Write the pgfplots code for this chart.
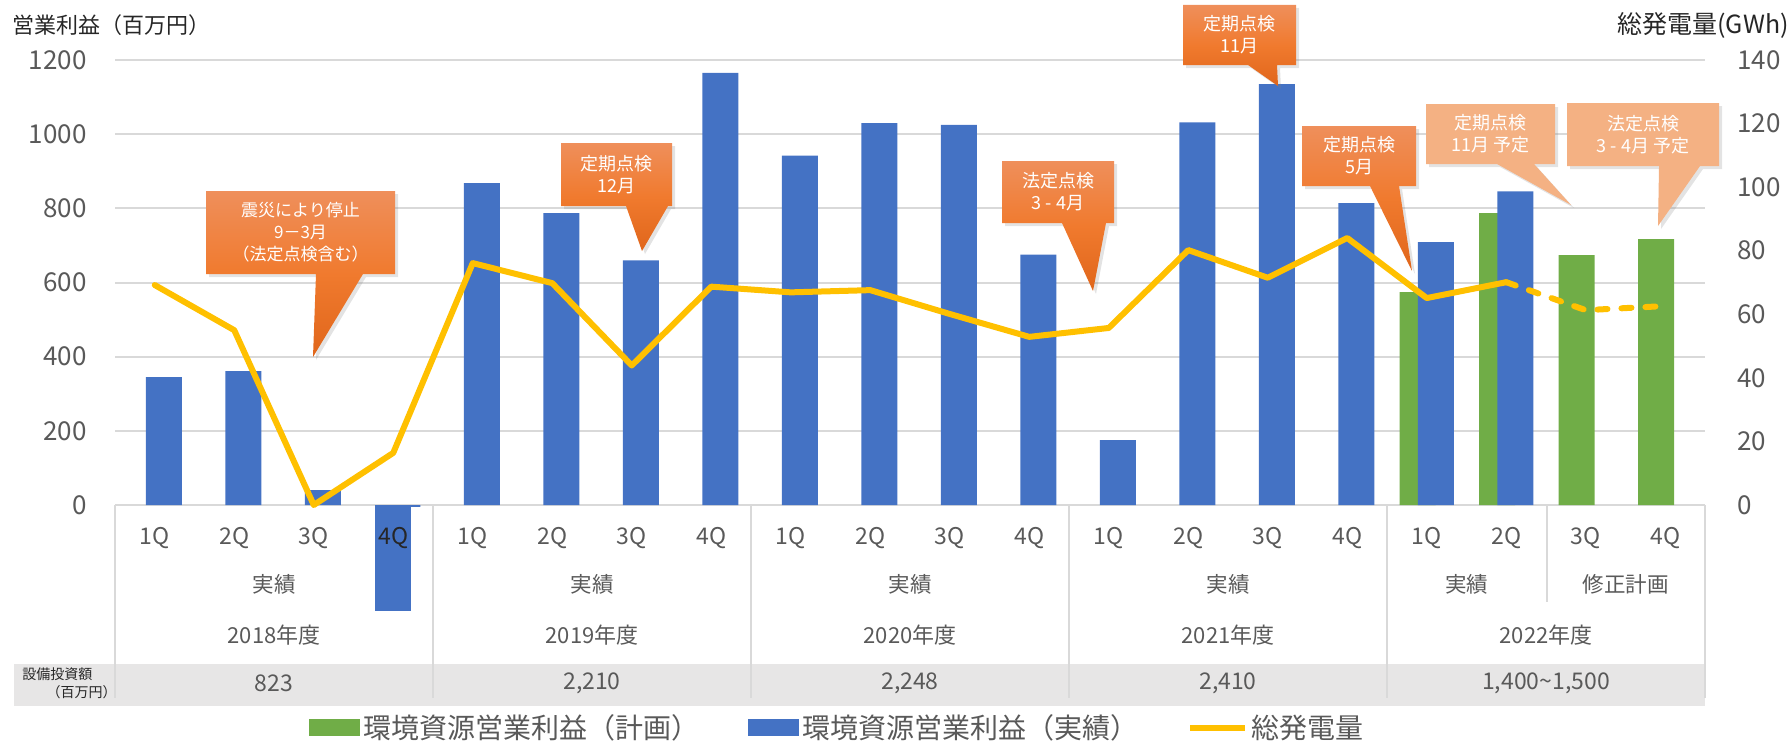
\documentclass[border=0pt]{standalone}
\usepackage{fontspec}
\setmainfont{Noto Sans CJK JP}
\usepackage{pgfplots}
\pgfplotsset{compat=1.18}
\usetikzlibrary{shadows}
\definecolor{barblue}{HTML}{4472C4}
\definecolor{bargreen}{HTML}{70AD47}
\definecolor{lineyel}{HTML}{FFC000}
\definecolor{gridgray}{HTML}{D9D9D9}
\definecolor{labgray}{HTML}{595959}
\definecolor{rowgray}{HTML}{E7E6E6}
\definecolor{coTop}{HTML}{EF8F5B}
\definecolor{coMid}{HTML}{F07A2E}
\definecolor{coBot}{HTML}{E0661B}
\definecolor{coLight}{HTML}{F4B183}
\begin{document}
\begin{tikzpicture}[x=0.5pt,y=0.5pt]
\useasboundingbox (0,0) rectangle (1791,741);
% investment row and category separators
\fill[rowgray] (14,35) rectangle (1705,77);
\foreach \xx in {115,433,751,1069,1387,1705} \draw[gridgray, line width=1pt] (\xx,236) -- (\xx,43);
\draw[gridgray, line width=1pt] (1547,236) -- (1547,139);

\begin{axis}[
  at={(57.5pt,118pt)}, anchor=south west,
  scale only axis, width=795pt, height=222.5pt,
  xmin=-0.5, xmax=19.5, ymin=0, ymax=1200,
  clip=false,
  axis line style={draw=none},
  major tick length=0pt,
  ytick={0,200,...,1200},
  ymajorgrids, grid style={gridgray, line width=1pt},
  xtick={0,...,19},
  xticklabels={1Q,2Q,3Q,{},1Q,2Q,3Q,4Q,1Q,2Q,3Q,4Q,1Q,2Q,3Q,4Q,1Q,2Q,3Q,4Q},
  xticklabel style={font=\fontsize{11.5}{12}\selectfont, text=labgray, anchor=center, inner sep=0pt, yshift=-16.5pt},
  yticklabel style={font=\fontsize{13}{14}\selectfont, text=labgray, anchor=east, inner sep=0pt, xshift=-14pt},
  /pgf/number format/assume math mode=true,
  /pgf/number format/1000 sep={},
  legend style={at={(0.4544,-0.501)}, anchor=center, draw=none, fill=none,
    font=\fontsize{14}{16}\selectfont, text=labgray, legend columns=3,
    inner sep=0pt, nodes={inner sep=1.5pt},
    /tikz/every even column/.append style={column sep=23pt}},
  legend cell align=left,
]
\addplot[ybar, fill=bargreen, draw=none, bar width=0.453, bar shift=-0.115,
  legend image code/.code={\fill[bargreen] (0pt,-4.25pt) rectangle (25.5pt,4.25pt);}]
  coordinates {(16,574) (17,787) (18,674) (19,717)};
\addlegendentry{環境資源営業利益（計画）}
\addplot[ybar, fill=barblue, draw=none, bar width=0.453, bar shift=0.115,
  legend image code/.code={\fill[barblue] (0pt,-4.25pt) rectangle (25.5pt,4.25pt);}]
  coordinates {(0,345) (1,361) (2,40) (3,-5) (4,868) (5,787) (6,660) (7,1165)
               (8,942) (9,1030) (10,1025) (11,675) (12,175) (13,1032) (14,1135) (15,814)
               (16,709) (17,846)};
\addlegendentry{環境資源営業利益（実績）}
\addplot[ybar, fill=barblue, draw=none, bar width=0.453, bar shift=0, forget plot]
  coordinates {(3,-285)};
\addlegendimage{legend image code/.code={\draw[lineyel, line width=3pt] (0pt,0pt) -- (27.5pt,0pt);}}
\addlegendentry{総発電量}
\end{axis}

\begin{axis}[
  at={(57.5pt,118pt)}, anchor=south west,
  scale only axis, width=795pt, height=222.5pt,
  xmin=-0.5, xmax=19.5, ymin=0, ymax=140,
  clip=false,
  axis x line=none, axis y line*=right, axis line style={draw=none},
  major tick length=0pt,
  ytick={0,20,...,140},
  yticklabel style={font=\fontsize{13}{14}\selectfont, text=labgray, anchor=west, inner sep=0pt, xshift=16pt},
  /pgf/number format/assume math mode=true,
]
\addplot[lineyel, line width=3pt, line join=round, line cap=round]
  coordinates {(0,69.2) (1,55.0) (2,0) (3,16.4) (4,76.1) (5,69.8) (6,43.9) (7,68.7)
               (8,66.9) (9,67.6) (10,60.1) (11,52.9) (12,55.7) (13,80.2) (14,71.5) (15,84.0)
               (16,65.1) (17,70.1)};
\addplot[lineyel, line width=3pt, line cap=round, dash pattern=on 5pt off 7pt]
  coordinates {(17,70.1) (18,61.3) (19,62.6)};
\end{axis}

% quarter label drawn over the negative bar
\node[font=\fontsize{11.5}{12}\selectfont, text=black!85, inner sep=0pt] at (393.25,203) {4Q};

% axis titles
\node[anchor=west, inner sep=0pt, font=\fontsize{11}{12}\selectfont, text=black!85] at (12,716) {営業利益（百万円）};
\node[anchor=east, inner sep=0pt, font=\fontsize{12.5}{13}\selectfont, text=black!85] at (1789,716) {総発電量(GWh)};

% category group labels
\begin{scope}[every node/.style={font=\fontsize{10.75}{12}\selectfont, text=labgray}]
\node at (274,157) {実績};
\node at (592,157) {実績};
\node at (910,157) {実績};
\node at (1228,157) {実績};
\node at (1466.5,157) {実績};
\node at (1625.5,157) {修正計画};
\end{scope}
\begin{scope}[every node/.style={font=\fontsize{11}{12}\selectfont, text=labgray}]
\node at (274,106) {2018年度};
\node at (592,106) {2019年度};
\node at (910,106) {2020年度};
\node at (1228,106) {2021年度};
\node at (1546,106) {2022年度};
\end{scope}
\begin{scope}[every node/.style={font=\fontsize{11.5}{12}\selectfont, text=labgray}]
\node at (274,58) {823};
\node at (592,58) {2,210};
\node at (910,58) {2,248};
\node at (1228,58) {2,410};
\node at (1546,58) {1,400\textasciitilde1,500};
\end{scope}
\node[anchor=west, inner sep=0pt, font=\fontsize{7}{8}\selectfont, text=black!85] at (22,67) {設備投資額};
\node[anchor=east, inner sep=0pt, font=\fontsize{7}{8}\selectfont, text=black!85] at (117,49) {（百万円）};

% callouts
\tikzset{darkco/.style={drop shadow={shadow xshift=1.5pt, shadow yshift=-1.5pt, opacity=0.22}, top color=coTop, bottom color=coBot, middle color=coMid},
         lightco/.style={drop shadow={shadow xshift=1.5pt, shadow yshift=-1.5pt, opacity=0.22}, fill=coLight},
         cotext/.style={text=white, align=center, font=\fontsize{9}{11}\selectfont}}
\path[darkco] (206,550) -- (395,550) -- (395,467) -- (363,467) -- (313,384) -- (316,467) -- (206,467) -- cycle;
\node[cotext, font=\fontsize{8.5}{11}\selectfont] at (300.5,508.5) {震災により停止\\9－3月\\（法定点検含む）};

\path[darkco] (561,598) -- (672,598) -- (672,535) -- (668,535) -- (642,490) -- (626,535) -- (561,535) -- cycle;
\node[cotext] at (616.5,566.5) {定期点検\\12月};

\path[darkco] (1002,580) -- (1114,580) -- (1114,518) -- (1106,518) -- (1093,450) -- (1062,518) -- (1002,518) -- cycle;
\node[cotext] at (1058,549) {法定点検\\3 - 4月};

\path[darkco] (1183,736) -- (1296,736) -- (1296,676) -- (1277,676) -- (1278,655) -- (1248,676) -- (1183,676) -- cycle;
\node[cotext] at (1239.5,706) {定期点検\\11月};

\path[darkco] (1302,615) -- (1416,615) -- (1416,555) -- (1399,555) -- (1412,470) -- (1370,555) -- (1302,555) -- cycle;
\node[cotext] at (1359,585) {定期点検\\5月};

\path[lightco] (1426,637) -- (1555,637) -- (1555,577) -- (1534,577) -- (1571,536) -- (1497,577) -- (1426,577) -- cycle;
\node[cotext] at (1490.5,607) {定期点検\\11月 予定};

\path[lightco] (1567,638) -- (1719,638) -- (1719,575) -- (1700,575) -- (1658,515) -- (1659,575) -- (1567,575) -- cycle;
\node[cotext] at (1643,606.5) {法定点検\\3 - 4月 予定};
\end{tikzpicture}
\end{document}
